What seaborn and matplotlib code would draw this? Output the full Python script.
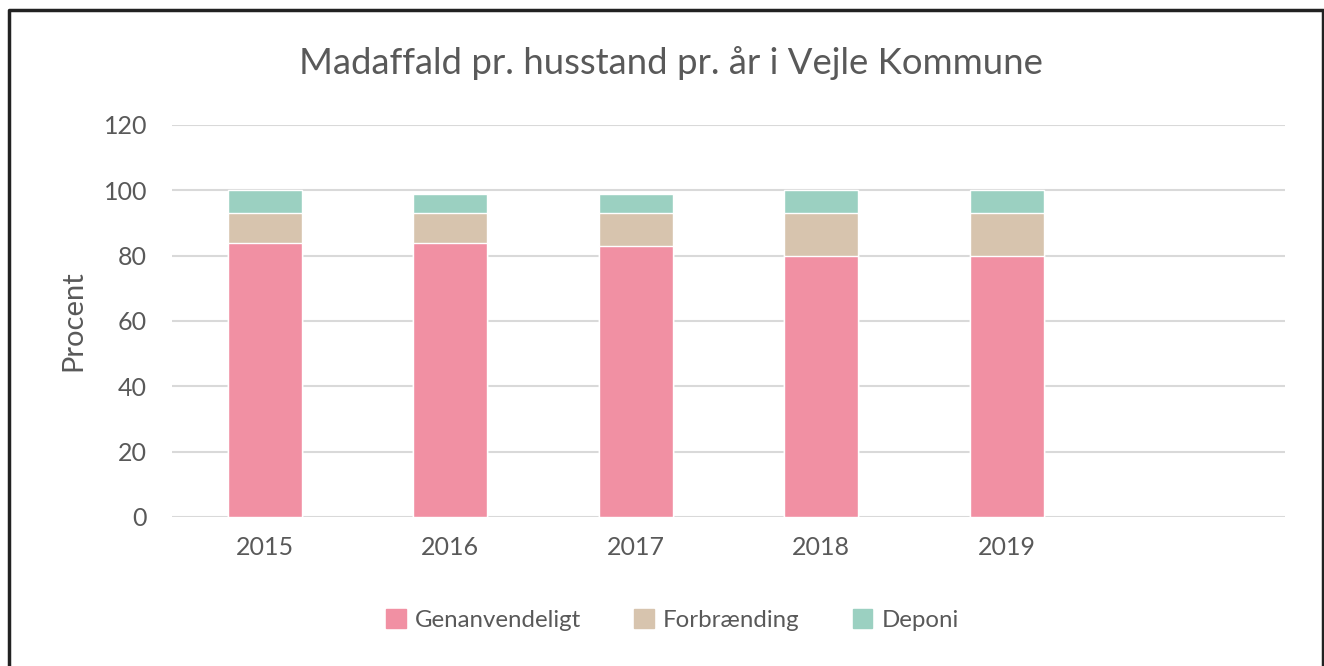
import matplotlib.pyplot as plt
import matplotlib.patches as mpatches
from matplotlib.lines import Line2D
import seaborn as sns
import pandas as pd

years = ["2015", "2016", "2017", "2018", "2019"]
genanvendeligt = [84, 84, 83, 80, 80]
forbraending = [9, 9, 10, 13, 13]
deponi = [7, 6, 6, 7, 7]

series_names = ["Genanvendeligt", "Forbrænding", "Deponi"]
colors = ["#F190A3", "#D7C4AE", "#9BD0C1"]
text_color = "#595959"

sns.set_theme(style="white")
plt.rcParams["font.family"] = ["Lato", "DejaVu Sans"]

df = pd.DataFrame({"year": years, "gen": genanvendeligt,
                   "forb": forbraending, "dep": deponi})
df["top1"] = df["gen"]
df["top2"] = df["gen"] + df["forb"]
df["top3"] = df["top2"] + df["dep"]

fig = plt.figure(figsize=(13.24, 6.66), dpi=100)
ax = fig.add_axes([172 / 1324, 149 / 666, 1113 / 1324, 392 / 666])

# stacked bars: draw cumulative totals, largest first
for col, c in zip(["top3", "top2", "top1"], colors[::-1]):
    sns.barplot(data=df, x="year", y=col, color=c, width=0.4,
                saturation=1, ax=ax, zorder=3)

ax.set_xlim(-0.5, 5.5)
ax.set_ylim(0, 120)
ax.set_yticks(range(0, 121, 20))
ax.yaxis.grid(True, color="#D9D9D9", linewidth=1.5, zorder=0)
ax.set_axisbelow(True)
for s in ax.spines.values():
    s.set_visible(False)
ax.tick_params(axis="both", length=0, labelsize=18, labelcolor=text_color)
ax.tick_params(axis="x", pad=14)
ax.tick_params(axis="y", pad=18)
ax.set_xlabel("")
ax.set_ylabel("Procent", fontsize=21, color=text_color, labelpad=12)

fig.text(0.507, 0.906, "Madaffald pr. husstand pr. år i Vejle Kommune",
         ha="center", va="center", fontsize=26.3, color=text_color)

handles = [mpatches.Patch(color=c, label=n) for c, n in zip(colors, series_names)]
fig.legend(handles=handles, loc="center", bbox_to_anchor=(0.508, 0.069),
           ncol=3, frameon=False, fontsize=17.3, labelcolor=text_color,
           handlelength=0.8, handleheight=0.8, handletextpad=0.4,
           columnspacing=2.2)

# outer frame (left, top, right)
fig.add_artist(Line2D([8.5 / 1324, 8.5 / 1324, 1322.5 / 1324, 1322.5 / 1324],
                      [0, 1 - 10 / 666, 1 - 10 / 666, 0],
                      color="#222222", linewidth=2.5,
                      transform=fig.transFigure))

fig.savefig("out.png", dpi=100)
